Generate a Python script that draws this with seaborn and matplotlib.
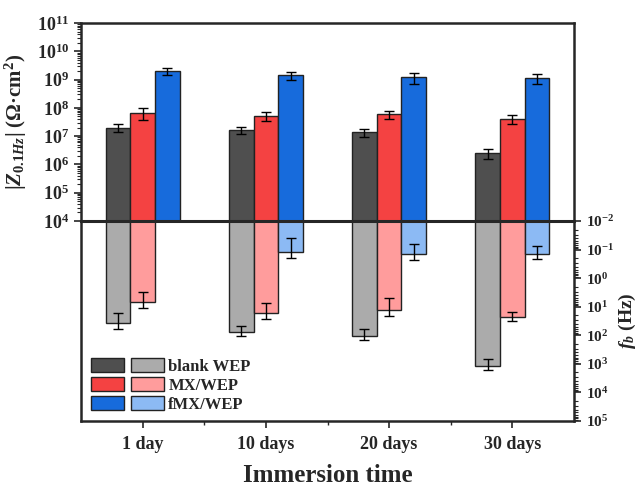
import numpy as np
import pandas as pd
import matplotlib
matplotlib.use("Agg")
import matplotlib.pyplot as plt
import seaborn as sns
from matplotlib.patches import Patch
from matplotlib.legend_handler import HandlerTuple
from matplotlib.ticker import LogLocator, FixedLocator, NullFormatter

# data
times = ["1 day", "10 days", "20 days", "30 days"]
samples = ["blank WEP", "MX/WEP", "fMX/WEP"]

z_blank = [2.0e7, 1.65e7, 1.36e7, 2.5e6]
z_mx = [6.7e7, 5.3e7, 6.0e7, 4.1e7]
z_fmx = [2.0e9, 1.45e9, 1.2e9, 1.15e9]
z_blank_err = [0.6e7, 0.5e7, 0.45e7, 0.9e6]
z_mx_err = [3.0e7, 2.0e7, 2.0e7, 1.5e7]
z_fmx_err = [0.6e9, 0.45e9, 0.48e9, 0.48e9]

f_blank = [38, 75, 106, 1190]
f_mx = [7.0, 17, 13, 23.5]
f_fmx = [np.nan, 0.12, 0.143, 0.143]
f_blank_err = [21, 28, 45, 500]
f_mx_err = [4.0, 9.5, 8.0, 8.0]
f_fmx_err = [np.nan, 0.08, 0.08, 0.07]

dark_colors = ["#4f4f4f", "#f44242", "#176bdc"]
light_colors = ["#ababab", "#ff9c9c", "#8cbaf4"]


def long_table(series, errs):
    rows = []
    for s, vals, es in zip(samples, series, errs):
        for t, v, e in zip(times, vals, es):
            if not np.isnan(v):
                rows.append({"time": t, "sample": s, "value": v, "err": e})
    return pd.DataFrame(rows)


df_z = long_table([z_blank, z_mx, z_fmx], [z_blank_err, z_mx_err, z_fmx_err])
df_f = long_table([f_blank, f_mx, f_fmx], [f_blank_err, f_mx_err, f_fmx_err])

sns.set_style("ticks")
plt.rcParams["font.family"] = ["Liberation Serif", "DejaVu Serif"]
plt.rcParams["font.weight"] = "bold"
plt.rcParams["axes.labelweight"] = "bold"
plt.rcParams["mathtext.fontset"] = "custom"
plt.rcParams["mathtext.rm"] = "Liberation Serif:bold"
plt.rcParams["mathtext.it"] = "Liberation Serif:italic:bold"
plt.rcParams["mathtext.bf"] = "Liberation Serif:bold"
plt.rcParams["xtick.direction"] = "out"
plt.rcParams["ytick.direction"] = "out"

W, H = 639, 488
fig = plt.figure(figsize=(W / 100, H / 100), dpi=100)
left, right = 81 / W, 574 / W
ax_top = fig.add_axes([left, (H - 221) / H, right - left, (221 - 23) / H])
ax_bot = fig.add_axes([left, (H - 421) / H, right - left, (421 - 221) / H])


def draw(ax, df, colors):
    sns.barplot(data=df, x="time", y="value", hue="sample", order=times,
                hue_order=samples, palette=colors, saturation=1, width=0.6,
                errorbar=None, edgecolor="#222222", linewidth=1, legend=False, ax=ax)
    for s, cont in zip(samples, ax.containers):
        sub = df[df["sample"] == s]
        xs = [p.get_x() + p.get_width() / 2 for p in cont.patches]
        ax.errorbar(xs, sub["value"].values, yerr=sub["err"].values, fmt="none",
                    ecolor="black", elinewidth=1, capsize=3.5, capthick=1)
    ax.set_yscale("log")
    ax.set_xlim(-0.5, 3.5)
    ax.set_xlabel("")
    ax.set_ylabel("")


draw(ax_top, df_z, dark_colors)
draw(ax_bot, df_f, light_colors)

# upper axis
ax_top.set_ylim(1e4, 1e11)
ax_top.yaxis.set_major_locator(LogLocator(base=10, numticks=20))
ax_top.yaxis.set_minor_locator(LogLocator(base=10, subs=np.arange(2, 10), numticks=20))
ax_top.yaxis.set_minor_formatter(NullFormatter())
ax_top.tick_params(axis="y", which="major", labelsize=13, length=5, width=1.2)
ax_top.tick_params(axis="y", which="minor", length=3, width=0.8)
ax_top.tick_params(axis="x", bottom=False, labelbottom=False)
ax_top.spines["bottom"].set_visible(False)
for sp in ["left", "top", "right"]:
    ax_top.spines[sp].set_linewidth(1.8)
ax_top.set_ylabel(r"$|Z_{0.1Hz}|$ (Ω·cm$^{2}$)", fontsize=15, labelpad=6)

# lower axis
ax_bot.set_ylim(1e5, 1e-2)
ax_bot.yaxis.set_label_position("right")
ax_bot.yaxis.tick_right()
ax_bot.yaxis.set_major_locator(LogLocator(base=10, numticks=20))
ax_bot.yaxis.set_minor_locator(LogLocator(base=10, subs=np.arange(2, 10), numticks=20))
ax_bot.yaxis.set_minor_formatter(NullFormatter())
ax_bot.tick_params(axis="y", which="major", labelsize=11, length=5, width=1.2)
ax_bot.tick_params(axis="y", which="minor", length=3, width=0.8)
ax_bot.xaxis.set_minor_locator(FixedLocator([0.5, 1.5, 2.5]))
ax_bot.tick_params(axis="x", which="major", labelsize=13, length=5, width=1.2, pad=6)
ax_bot.tick_params(axis="x", which="minor", length=3, width=1)
for sp in ["left", "bottom", "right"]:
    ax_bot.spines[sp].set_linewidth(1.8)
ax_bot.spines["top"].set_linewidth(2.2)
ax_bot.set_ylabel(r"$f_b$ (Hz)", fontsize=14, rotation=90, labelpad=2)
ax_bot.set_xlabel("Immersion time", fontsize=18, labelpad=8)

handles = [(Patch(facecolor=d, edgecolor="#222222"), Patch(facecolor=l, edgecolor="#222222"))
           for d, l in zip(dark_colors, light_colors)]
ax_bot.legend(handles, samples, handler_map={tuple: HandlerTuple(ndivide=None, pad=0.45)},
              loc="lower left", bbox_to_anchor=(0.02, 0.04), borderaxespad=0, borderpad=0,
              frameon=False, fontsize=12, handlelength=4.4, handleheight=0.9,
              handletextpad=0.25, labelspacing=0.15)

fig.savefig("out.png", dpi=100)
